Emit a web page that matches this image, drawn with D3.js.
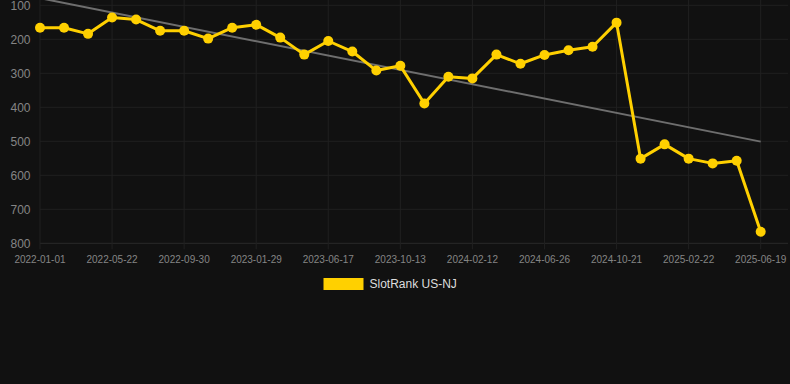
<!DOCTYPE html>
<html lang="en">
<head>
  <meta charset="UTF-8">
  <title>SlotRank US-NJ</title>
  <script src="https://d3js.org/d3.v7.min.js"></script>
  <style>
    html, body { margin: 0; padding: 0; background: #111111; }
    svg { display: block; font-family: "Liberation Sans", Arial, sans-serif; }
  </style>
</head>
<body>
  <svg id="chart" width="790" height="384"></svg>
  <script>
    // data
    const dates = [
      "2022-01-01", "2022-02-17", "2022-04-05", "2022-05-22", "2022-07-05", "2022-08-18",
      "2022-09-30", "2022-11-09", "2022-12-19", "2023-01-29", "2023-03-16", "2023-05-02",
      "2023-06-17", "2023-07-26", "2023-09-03", "2023-10-13", "2023-11-23", "2024-01-02",
      "2024-02-12", "2024-03-28", "2024-05-12", "2024-06-26", "2024-08-04", "2024-09-12",
      "2024-10-21", "2024-12-01", "2025-01-11", "2025-02-22", "2025-04-01", "2025-05-10",
      "2025-06-19"
    ];
    const ranks = [
      166, 166, 184, 136, 142, 175, 175, 198, 166, 157,
      195, 245, 205, 236, 292, 278, 389, 310, 315, 245,
      272, 246, 232, 222, 151, 551, 509, 551, 565, 557,
      766
    ];
    const yTicks = [100, 200, 300, 400, 500, 600, 700, 800];
    // trend line values at first and last date
    const trendStart = 79;
    const trendEnd = 501;
    const seriesName = "SlotRank US-NJ";

    const plotLeft = 40, plotRight = 788, plotTop = 5.3, plotBottom = 243.3;
    const lastX = 760.7;
    const gridColor = "#202020";
    const lineColor = "#ffd000";

    const svg = d3.select("#chart");

    const x = d3.scalePoint()
      .domain(dates)
      .range([plotLeft, lastX]);

    const y = d3.scaleLinear()
      .domain([100, 800])
      .range([plotTop, plotBottom]);

    const labelDates = dates.filter((d, i) => i % 3 == 0);

    // grid
    svg.append("g")
      .selectAll("line")
      .data(yTicks)
      .enter()
      .append("line")
      .attr("x1", plotLeft)
      .attr("x2", plotRight)
      .attr("y1", d => y(d))
      .attr("y2", d => y(d))
      .attr("stroke", d => d == 800 ? "#2a2a2a" : gridColor)
      .attr("stroke-width", 1);

    svg.append("g")
      .selectAll("line")
      .data(labelDates)
      .enter()
      .append("line")
      .attr("x1", d => x(d))
      .attr("x2", d => x(d))
      .attr("y1", 0)
      .attr("y2", plotBottom + 6)
      .attr("stroke", gridColor)
      .attr("stroke-width", 1);

    // y axis labels
    svg.append("g")
      .selectAll("text")
      .data(yTicks)
      .enter()
      .append("text")
      .attr("x", 30.5)
      .attr("y", d => y(d))
      .attr("dy", "0.36em")
      .attr("text-anchor", "end")
      .attr("fill", "#858585")
      .attr("font-size", 12)
      .text(d => d);

    // x axis labels
    svg.append("g")
      .selectAll("text")
      .data(labelDates)
      .enter()
      .append("text")
      .attr("x", d => x(d))
      .attr("y", plotBottom + 16.5)
      .attr("dy", "0.36em")
      .attr("text-anchor", "middle")
      .attr("fill", "#858585")
      .attr("font-size", 10)
      .text(d => d);

    // trend line
    svg.append("line")
      .attr("x1", x(dates[0]))
      .attr("x2", x(dates[dates.length - 1]))
      .attr("y1", y(trendStart))
      .attr("y2", y(trendEnd))
      .attr("stroke", "#6e6e6e")
      .attr("stroke-width", 2);

    // series
    const points = dates.map((d, i) => ({ date: d, rank: ranks[i] }));

    const line = d3.line()
      .x(d => x(d.date))
      .y(d => y(d.rank));

    svg.append("path")
      .datum(points)
      .attr("d", line)
      .attr("fill", "none")
      .attr("stroke", lineColor)
      .attr("stroke-width", 3)
      .attr("stroke-linejoin", "round");

    svg.append("g")
      .selectAll("circle")
      .data(points)
      .enter()
      .append("circle")
      .attr("cx", d => x(d.date))
      .attr("cy", d => y(d.rank))
      .attr("r", 5)
      .attr("fill", lineColor);

    // legend
    const legend = svg.append("g");
    legend.append("rect")
      .attr("x", 323.5)
      .attr("y", 278)
      .attr("width", 40)
      .attr("height", 12)
      .attr("fill", lineColor);
    legend.append("text")
      .attr("x", 369.5)
      .attr("y", 284)
      .attr("dy", "0.36em")
      .attr("fill", "#dddddd")
      .attr("font-size", 12)
      .text(seriesName);
  </script>
</body>
</html>
